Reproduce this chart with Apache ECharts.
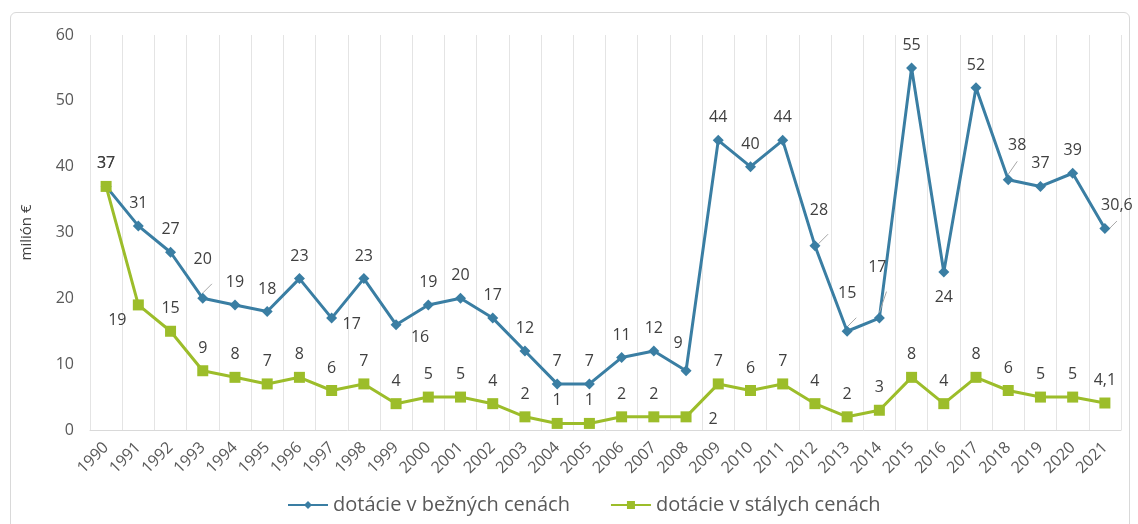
<!DOCTYPE html>
<html>
<head>
<meta charset="utf-8">
<script src="https://cdn.jsdelivr.net/npm/echarts@6/dist/echarts.min.js"></script>
<style>
  html, body { margin: 0; padding: 0; background: #ffffff; }
  #wrap { position: relative; width: 1138px; height: 524px; overflow: hidden; }
  #frame { position: absolute; left: 10px; top: 12px; width: 1120px; height: 530px;
           border: 1px solid #d9d9d9; border-radius: 6px; box-sizing: border-box; }
  #chart { position: absolute; left: 0; top: 0; width: 1138px; height: 524px; }
</style>
</head>
<body>
<div id="wrap">
  <div id="frame"></div>
  <div id="chart"></div>
</div>
<script>
// Years on the horizontal axis
const years = ['1990','1991','1992','1993','1994','1995','1996','1997','1998','1999',
  '2000','2001','2002','2003','2004','2005','2006','2007','2008','2009','2010',
  '2011','2012','2013','2014','2015','2016','2017','2018','2019','2020','2021'];

// Subsidies in current prices (million €)
const currentPrices = [37, 31, 27, 20, 19, 18, 23, 17, 23, 16, 19, 20, 17, 12, 7, 7,
  11, 12, 9, 44, 40, 44, 28, 15, 17, 55, 24, 52, 38, 37, 39, 30.6];

// Subsidies in constant prices (million €)
const constantPrices = [37, 19, 15, 9, 8, 7, 8, 6, 7, 4, 5, 5, 4, 2, 1, 1,
  2, 2, 2, 7, 6, 7, 4, 2, 3, 8, 4, 8, 6, 5, 5, 4.1];

const seriesNames = ['dotácie v bežných cenách', 'dotácie v stálych cenách'];
const yAxisName = 'milión €';

// Labels that sit away from the default spot above the point: [dx, dy]
const currentLabelShift = {
  '1993': [0, -16], '1997': [20, 29], '1999': [24, 35], '2008': [-8, -5],
  '2012': [4, -13], '2013': [0, -15], '2014': [-2, -28], '2016': [0, 48],
  '2018': [9, -12], '2021': [12, -1]
};
const constantLabelShift = { '1991': [-21, 38], '2008': [27, 25] };
const withLeader = ['1993', '2008', '2012', '2013', '2014', '2018', '2021'];

const FONT = '"Open Sans", "DejaVu Sans", sans-serif';
const fmt = v => String(v).replace('.', ',');

function buildData(values, shifts, leaderYears) {
  return values.map((v, i) => {
    const y = years[i];
    const item = { value: v };
    if (shifts[y]) {
      item.label = { offset: shifts[y] };
      if (leaderYears && leaderYears.indexOf(y) >= 0) {
        item.labelLine = { show: true };
      }
    }
    return item;
  });
}

const chart = echarts.init(document.getElementById('chart'), null, { renderer: 'canvas' });

const dataLabel = {
  show: true, position: 'top', distance: 9, fontSize: 16, color: '#404040',
  fontFamily: FONT, formatter: p => fmt(p.value)
};

chart.setOption({
  animation: false,
  textStyle: { fontFamily: FONT },
  grid: { left: 90, right: 17, top: 35, bottom: 94, containLabel: false },
  legend: {
    bottom: 4,
    left: 282,
    itemWidth: 40,
    itemHeight: 10,
    itemGap: 40,
    textStyle: { fontFamily: FONT, fontSize: 20, color: '#595959' },
    data: seriesNames
  },
  xAxis: {
    type: 'category',
    data: years,
    boundaryGap: true,
    axisLine: { show: true, lineStyle: { color: '#d9d9d9', width: 1 } },
    axisTick: { show: false },
    splitLine: { show: true, lineStyle: { color: '#e4e4e4', width: 1 } },
    axisLabel: { rotate: 45, interval: 0, margin: 15, fontSize: 16, color: '#595959', fontFamily: FONT }
  },
  yAxis: {
    type: 'value',
    min: 0, max: 60, interval: 10,
    name: yAxisName,
    nameLocation: 'middle',
    nameGap: 56,
    nameTextStyle: { fontSize: 15, color: '#404040', fontFamily: FONT },
    axisLine: { show: false },
    axisTick: { show: false },
    splitLine: { show: false },
    axisLabel: { margin: 16, fontSize: 16, color: '#595959', fontFamily: FONT }
  },
  series: [
    {
      name: seriesNames[0],
      type: 'line',
      data: buildData(currentPrices, currentLabelShift, withLeader),
      symbol: 'diamond',
      symbolSize: 11,
      lineStyle: { color: '#3a7ea3', width: 3 },
      itemStyle: { color: '#3a7ea3' },
      label: dataLabel,
      labelLine: { show: false, lineStyle: { color: '#a6a6a6', width: 1 } }
    },
    {
      name: seriesNames[1],
      type: 'line',
      data: buildData(constantPrices, constantLabelShift, []),
      symbol: 'rect',
      symbolSize: 11,
      lineStyle: { color: '#9cbd2a', width: 3 },
      itemStyle: { color: '#9cbd2a' },
      label: dataLabel,
      labelLine: { show: false, lineStyle: { color: '#a6a6a6', width: 1 } }
    }
  ]
});
</script>
</body>
</html>
